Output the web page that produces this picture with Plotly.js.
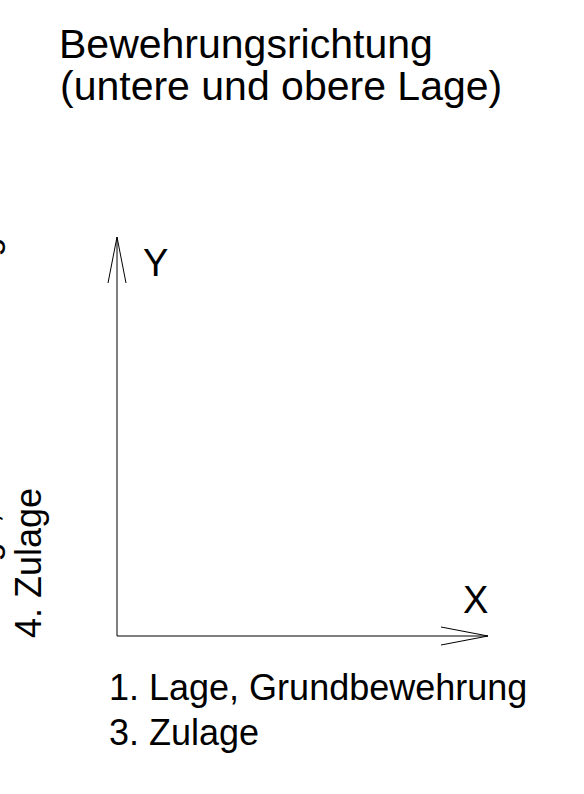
<!DOCTYPE html>
<html>
<head>
<meta charset="utf-8">
<script src="https://cdn.plot.ly/plotly-3.0.1.min.js"></script>
<style>html,body{margin:0;padding:0;background:#fff;}#chart{width:584px;height:794px;}</style>
</head>
<body>
<div id="chart"></div>
<script>
// Diagram data (diagram units, origin at the corner of the two axes)
const xArrowShaftX = [0, 371];
const xArrowShaftY = [0, 0];
const xArrowHeadX = [324, 371, 324];
const xArrowHeadY = [9, 0, -9];
const yArrowShaftX = [0, 0];
const yArrowShaftY = [0, 399];
const yArrowHeadX = [-9, 0, 9];
const yArrowHeadY = [353, 399, 353];

const titleLines = ['Bewehrungsrichtung', '(untere und obere Lage)'];
const axisNames = ['X', 'Y'];
const xDirectionLabels = ['1. Lage, Grundbewehrung', '3. Zulage'];
const yDirectionLabels = ['2. Lage, Grundbewehrung', '4. Zulage'];

const FONT = 'Liberation Sans, Arial, sans-serif';
const lineStyle = {color: '#000', width: 1};

const traces = [
  {x: xArrowShaftX, y: xArrowShaftY},
  {x: xArrowHeadX, y: xArrowHeadY},
  {x: yArrowShaftX, y: yArrowShaftY},
  {x: yArrowHeadX, y: yArrowHeadY}
].map(t => Object.assign(t, {type: 'scatter', mode: 'lines', line: lineStyle, hoverinfo: 'skip', showlegend: false}));

const ann = (text, x, y, size, extra) => Object.assign({
  text: text, x: x, y: y, xref: 'x', yref: 'y', showarrow: false,
  font: {family: FONT, size: size, color: '#000'}, borderpad: 0
}, extra || {});

const annotations = [
  ann(titleLines[1], -58, 550, 41, {xanchor: 'left', yanchor: 'middle'}),
  ann(axisNames[0], 358, 36, 38, {xanchor: 'center', yanchor: 'middle'}),
  ann(axisNames[1], 38.5, 373, 38, {xanchor: 'center', yanchor: 'middle'}),
  ann(xDirectionLabels[0], -9, -51.5, 36, {xanchor: 'left', yanchor: 'middle'}),
  ann(xDirectionLabels[1], -9, -96.5, 36, {xanchor: 'left', yanchor: 'middle'}),
  ann(yDirectionLabels[0], -111.2, -3, 34.5, {xanchor: 'right', yanchor: 'bottom', textangle: -90}),
  ann(yDirectionLabels[1], -67.4, -3, 36, {xanchor: 'right', yanchor: 'bottom', textangle: -90})
];

const layout = {
  width: 584, height: 794,
  margin: {l: 0, r: 0, t: 0, b: 0, pad: 0},
  paper_bgcolor: '#fff', plot_bgcolor: '#fff',
  title: {
    text: titleLines[0],
    font: {family: FONT, size: 41, color: '#000'},
    x: 59 / 584, xanchor: 'left', xref: 'paper',
    y: 1 - 44 / 794, yanchor: 'middle', yref: 'container'
  },
  xaxis: {range: [-117, 467], visible: false, fixedrange: true},
  yaxis: {range: [-158, 636], visible: false, fixedrange: true},
  showlegend: false,
  annotations: annotations
};

Plotly.newPlot('chart', traces, layout, {displayModeBar: false, staticPlot: true});
</script>
</body>
</html>
